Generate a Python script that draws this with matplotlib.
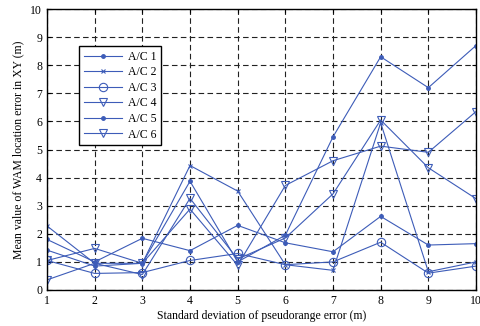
import matplotlib
matplotlib.use("Agg")
import matplotlib.pyplot as plt

plt.rcParams['font.family'] = ['Liberation Serif', 'DejaVu Serif']

x = [1, 2, 3, 4, 5, 6, 7, 8, 9, 10]
labels = ["A/C 1", "A/C 2", "A/C 3", "A/C 4", "A/C 5", "A/C 6"]
ac1 = [1.42, 0.85, 0.95, 3.87, 1.00, 1.95, 5.45, 8.30, 7.20, 8.70]
ac2 = [2.28, 0.95, 0.95, 4.43, 3.52, 0.90, 0.70, 5.95, 0.65, 1.00]
ac3 = [1.05, 0.59, 0.62, 1.05, 1.30, 0.90, 1.00, 1.70, 0.60, 0.85]
ac4 = [0.36, 0.95, 0.55, 3.26, 1.10, 1.85, 3.42, 6.05, 4.35, 3.25]
ac5 = [1.80, 1.00, 1.84, 1.40, 2.30, 1.68, 1.36, 2.62, 1.60, 1.65]
ac6 = [1.05, 1.48, 0.95, 2.88, 0.88, 3.72, 4.60, 5.12, 4.90, 6.35]
series = [ac1, ac2, ac3, ac4, ac5, ac6]

color = '#3d5cb8'
styles = [
    dict(marker='.', markersize=5),
    dict(marker='x', markersize=3, markeredgewidth=0.8),
    dict(marker='o', markersize=6, fillstyle='none', markeredgewidth=0.8),
    dict(marker='v', markersize=6, fillstyle='none', markeredgewidth=0.8),
    dict(marker='.', markersize=5),
    dict(marker='v', markersize=6, fillstyle='none', markeredgewidth=0.8),
]

fig = plt.figure(figsize=(4.81, 3.26), dpi=100)
ax = fig.add_axes([47/481, 36/326, 429/481, 281/326])

for ys, lab, st in zip(series, labels, styles):
    ax.plot(x, ys, color=color, linewidth=0.8, label=lab, **st)

ax.set_xlim(1, 10)
ax.set_ylim(0, 10)
ax.set_xticks(range(1, 11))
ax.set_yticks(range(0, 11))
ax.grid(True, color='#222222', linestyle=(0, (5, 3)), linewidth=0.8)
ax.tick_params(direction='in', labelsize=8.5, length=3, top=True, right=True)
for s in ax.spines.values():
    s.set_linewidth(1.0)
    s.set_color('black')

ax.set_xlabel("Standard deviation of pseudorange error (m)", fontsize=8.5, labelpad=2)
ax.set_ylabel("Mean value of WAM location error in XY (m)", fontsize=8.5, labelpad=4)

leg = ax.legend(loc='upper left', bbox_to_anchor=(0.075, 0.868), borderaxespad=0,
                fontsize=8.5, fancybox=False, framealpha=1, edgecolor='black',
                handlelength=3.2, handletextpad=0.5, labelspacing=0.3,
                borderpad=0.4)
leg.get_frame().set_linewidth(1.0)

fig.savefig("out.png", dpi=100)
